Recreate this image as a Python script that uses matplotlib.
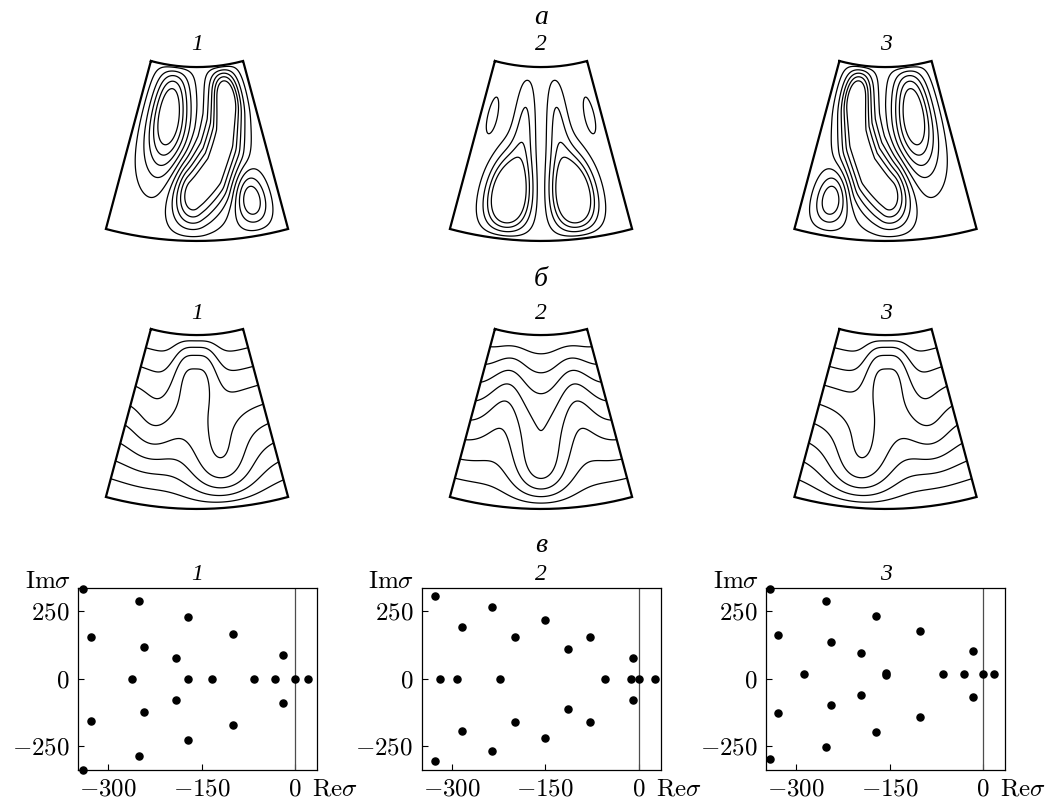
import numpy as np
import matplotlib
matplotlib.use('Agg')
import matplotlib.pyplot as plt

plt.rcParams['mathtext.fontset'] = 'cm'
plt.rcParams['font.family'] = ['Liberation Serif', 'DejaVu Serif']

W, H = 1051, 801
fig = plt.figure(figsize=(W / 100, H / 100), dpi=100)

# annular sector: inner radius (outer = 1), half opening angle
R_IN = 0.506
HALF = np.deg2rad(15)

# fields built from blobs (s, t, width_s, width_t, amplitude)
# s = -1..1 across the sector, t = 0 (top) .. 1 (bottom)
psi_1 = [(-0.47, 0.29, 0.32, 0.32, 1.2),
         (0.55, 0.10, 0.30, 0.20, -0.30),
         (0.66, 0.79, 0.20, 0.16, 0.72)]
# S-shaped cell of panel 1 as a ridge along a path
psi_1_path = [(0.52, 0.22), (0.42, 0.42), (0.23, 0.60), (0.02, 0.70), (-0.05, 0.73)]
psi_1_ridge = (0.25, 0.20, -1.14)
psi_2 = [(-0.41, 0.75, 0.255, 0.22, 1.39),
         (-0.27, 0.38, 0.18, 0.33, 0.42),
         (-0.81, 0.31, 0.10, 0.13, -0.35),
         (0.41, 0.75, 0.255, 0.22, -1.39),
         (0.27, 0.38, 0.18, 0.33, -0.42),
         (0.81, 0.31, 0.10, 0.13, 0.35)]
psi_levels_1 = [0.1, 0.3, 0.5, 0.7, 0.9]
psi_levels_2 = [0.15, 0.35, 0.55, 0.75]

temp_1 = [(-0.20, 0.00, 0.25, 0.30, 0.50),
          (0.15, 0.00, 0.25, 0.30, 0.50),
          (0.30, 1.00, 0.40, 0.38, -0.58),
          (-0.60, 0.60, 0.30, 0.30, -0.10)]
temp_2 = [(0.00, 1.00, 0.33, 0.35, -0.60),
          (-0.55, 0.30, 0.30, 0.40, 0.18),
          (0.55, 0.30, 0.30, 0.40, 0.18)]
temp_levels = [1, 2, 3, 4, 5, 6, 7, 8]

# spectra (Re sigma, Im sigma)
re_1 = [-340, -340, -251, -251, -327, -327, -242, -242, -261, -172, -172, -191,
        -191, -172, -133, -99, -99, -66, -32, -19, -19, 0, 20]
im_1 = [332, -337, 286, -286, 153, -155, 119, -122, 0, 227, -227, 78,
        -79, 0, 0, 167, -169, 0, 0, 89, -91, 0, 0]
re_2 = [-327, -327, -235, -235, -283, -283, -319, -291, -222, -198, -198, -151,
        -151, -114, -114, -78, -78, -55, -13, -9, -9, 0, 26]
im_2 = [305, -305, 264, -266, 191, -193, 0, 0, 0, 155, -158, 218,
        -220, 111, -112, 155, -159, 0, 0, 75, -78, 0, 0]
re_3 = [-341, -341, -252, -252, -329, -329, -244, -244, -287, -195, -195, -172,
        -172, -155, -155, -101, -101, -64, -30, -16, -16, 0, 18]
im_3 = [332, -298, 288, -251, 163, -126, 134, -97, 17, 94, -59, 232,
        -195, 15, 20, 177, -140, 17, 17, 103, -69, 17, 17]

xticks = [-300, -150, 0]
yticks = [-250, 0, 250]
row_titles = ['а', 'б', 'в']
panel_names = ['1', '2', '3']
centers = [197, 541, 885.5]


def blobs(S, T, bl):
    f = np.zeros_like(S)
    for sc, tc, ws, wt, a in bl:
        f += a * np.exp(-((S - sc) / ws) ** 2 - ((T - tc) / wt) ** 2)
    return f


def ridge(S, T, path, ws, wt, a):
    px, py = S / ws, T / wt
    d2 = np.full(S.shape, np.inf)
    for (s0, t0), (s1, t1) in zip(path[:-1], path[1:]):
        ax0, ay0 = s0 / ws, t0 / wt
        vx, vy = s1 / ws - ax0, t1 / wt - ay0
        u = np.clip(((px - ax0) * vx + (py - ay0) * vy) / (vx * vx + vy * vy), 0, 1)
        d2 = np.minimum(d2, (px - ax0 - u * vx) ** 2 + (py - ay0 - u * vy) ** 2)
    return a * np.exp(-d2)


s = np.linspace(-1, 1, 400)
t = np.linspace(0, 1, 400)
S, T = np.meshgrid(s, t)
R = R_IN + T * (1 - R_IN)
X = R * np.sin(S * HALF)
Y = -R * np.cos(S * HALF)
box = (1 - np.abs(S) ** 10) * (1 - np.abs(2 * T - 1) ** 10)

psi_a = box * (blobs(S, T, psi_1) + ridge(S, T, psi_1_path, *psi_1_ridge))
psi_fields = [psi_a, box * blobs(S, T, psi_2), psi_a[:, ::-1]]
psi_lv = [psi_levels_1, psi_levels_2, psi_levels_1]
temp_a = T + 4 * T * (1 - T) * blobs(S, T, temp_1)
temp_fields = [temp_a, T + 4 * T * (1 - T) * blobs(S, T, temp_2), temp_a[:, ::-1]]

K = 352.0  # pixels per unit length


def sector_ax(xc, ytop_corner):
    w, h = 0.6 * K, 0.56 * K
    top = ytop_corner - (R_IN * np.cos(HALF) - 0.46) * K
    ax = fig.add_axes([(xc - w / 2) / W, 1 - (top + h) / H, w / W, h / H])
    ax.set_xlim(-0.3, 0.3)
    ax.set_ylim(-1.02, -0.46)
    ax.axis('off')
    th = np.linspace(-HALF, HALF, 100)
    ox = np.concatenate([R_IN * np.sin(th), np.sin(th[::-1]), [R_IN * np.sin(th[0])]])
    oy = np.concatenate([-R_IN * np.cos(th), -np.cos(th[::-1]), [-R_IN * np.cos(th[0])]])
    ax.plot(ox, oy, color='k', lw=1.6, solid_joinstyle='miter')
    return ax


def number(x, y, txt):
    fig.text(x / W, 1 - y / H, txt, ha='center', va='center', fontsize=17,
             style='italic', family='Liberation Serif')


for i in range(3):
    ax = sector_ax(centers[i], 61)
    lv = sorted([-v for v in psi_lv[i]] + list(psi_lv[i]))
    ax.contour(X, Y, psi_fields[i], levels=lv, colors='k', linewidths=0.9,
               linestyles='solid')
    number(centers[i], 45, panel_names[i])

    ax = sector_ax(centers[i], 329)
    ax.contour(X, Y, temp_fields[i], levels=[v / 9 for v in temp_levels],
               colors='k', linewidths=0.9, linestyles='solid')
    number(centers[i], 313, panel_names[i])

for j, y in enumerate([17, 280, 545]):
    fig.text(541 / W, 1 - y / H, row_titles[j], ha='center', va='center',
             fontsize=20, style='italic', family='Liberation Serif')

spectra = [(re_1, im_1), (re_2, im_2), (re_3, im_3)]
lefts = [78, 421.7, 766]
for i in range(3):
    ax = fig.add_axes([lefts[i] / W, 1 - 770 / H, 239 / W, 182 / H])
    ax.axvline(0, color='0.3', lw=0.9)
    ax.scatter(spectra[i][0], spectra[i][1], s=26, color='k', zorder=3, clip_on=False)
    ax.set_xlim(-348, 35)
    ax.set_ylim(-337, 335)
    ax.set_xticks(xticks)
    ax.set_xticklabels(['$%d$' % v for v in xticks])
    ax.set_yticks(yticks)
    ax.set_yticklabels(['$%d$' % v for v in yticks])
    ax.tick_params(direction='in', length=4, width=0.8, labelsize=18, pad=6)
    for sp in ax.spines.values():
        sp.set_linewidth(0.9)
    ax.text(-0.03, 1.0, '$\\mathrm{Im}\\sigma$', transform=ax.transAxes,
            ha='right', va='baseline', fontsize=18)
    ax.annotate('$\\mathrm{Re}\\sigma$', xy=(0.98, 0), xycoords='axes fraction',
                xytext=(0, -6), textcoords='offset points', ha='left', va='top',
                fontsize=18)
    number(lefts[i] + 119.5, 574, panel_names[i])

fig.savefig('out.png', dpi=100)
